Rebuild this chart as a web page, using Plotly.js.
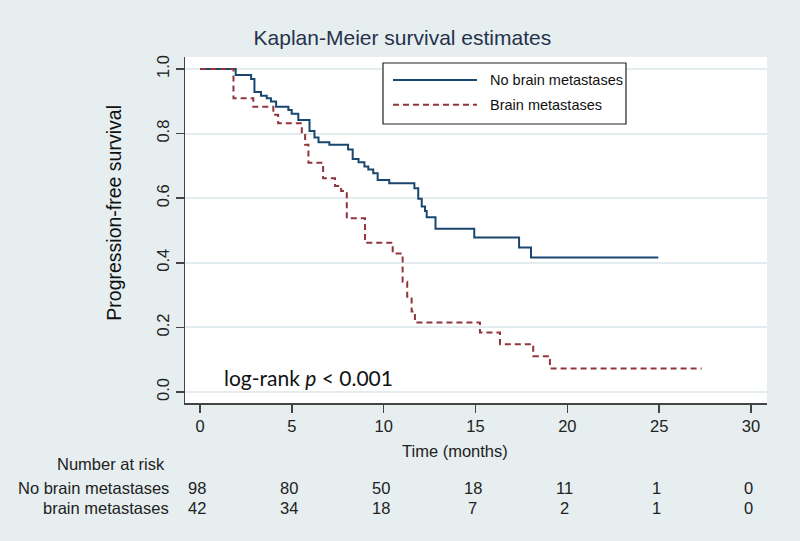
<!DOCTYPE html>
<html>
<head>
<meta charset="utf-8">
<script src="https://cdn.plot.ly/plotly-3.0.1.min.js"></script>
<style>
  html, body { margin: 0; padding: 0; background: #e6eef0; }
  #chart { width: 800px; height: 541px; }
</style>
</head>
<body>
<div id="chart"></div>
<script>
// Kaplan-Meier step data (time in months, survival probability)
const noBrainTime = [0, 1.94, 2.78, 2.96, 3.32, 3.63, 3.86, 4.14, 4.81, 4.99, 5.35, 5.96, 6.23, 6.45, 7.04, 8.06, 8.31, 8.63, 8.95, 9.16, 9.43, 9.67, 10.3, 11.67, 11.88, 12.07, 12.25, 12.34, 12.82, 14.93, 17.37, 18.02, 24.95];
const noBrainSurv = [1, 0.981, 0.969, 0.929, 0.917, 0.909, 0.899, 0.883, 0.873, 0.861, 0.842, 0.808, 0.788, 0.773, 0.765, 0.751, 0.721, 0.711, 0.698, 0.689, 0.677, 0.656, 0.646, 0.631, 0.598, 0.574, 0.56, 0.541, 0.505, 0.478, 0.447, 0.416, 0.416];

const brainTime = [0, 1.82, 2.9, 3.99, 4.25, 5.54, 5.72, 5.9, 6.7, 7.35, 7.68, 7.99, 8.98, 10.49, 11.03, 11.28, 11.52, 11.7, 15.24, 16.33, 18.14, 19.05, 27.31];
const brainSurv = [1, 0.909, 0.883, 0.858, 0.832, 0.801, 0.765, 0.71, 0.662, 0.638, 0.622, 0.538, 0.462, 0.429, 0.341, 0.295, 0.249, 0.215, 0.184, 0.148, 0.111, 0.073, 0.073];

// Number at risk table
const riskTimes = [0, 5, 10, 15, 20, 25, 30];
const riskNoBrain = [98, 80, 50, 18, 11, 1, 0];
const riskBrain = [42, 34, 18, 7, 2, 1, 0];

const xTicks = [0, 5, 10, 15, 20, 25, 30];
const yTicks = [0, 0.2, 0.4, 0.6, 0.8, 1.0];
const yTickText = ["0.0", "0.2", "0.4", "0.6", "0.8", "1.0"];

const seriesNames = ["No brain metastases", "Brain metastases"];
const rowLabels = ["No brain metastases", "brain metastases"];

const BLUE = "#1a476f";
const RED = "#90353b";
const FONT = "Liberation Sans, Arial, sans-serif";

const traces = [
  {
    x: noBrainTime, y: noBrainSurv, type: "scatter", mode: "lines",
    line: { shape: "hv", color: BLUE, width: 2 },
    name: seriesNames[0], showlegend: false, hoverinfo: "skip"
  },
  {
    x: brainTime, y: brainSurv, type: "scatter", mode: "lines",
    line: { shape: "hv", color: RED, width: 2, dash: "6px,4px" },
    name: seriesNames[1], showlegend: false, hoverinfo: "skip"
  }
];

const annotations = [];
// x axis title
annotations.push({
  text: "Time (months)", xref: "x", yref: "paper", x: 13.9, y: -0.139,
  xanchor: "center", yanchor: "middle", showarrow: false,
  font: { family: FONT, size: 16.5, color: "#222" }
});
// y axis title
annotations.push({
  text: "Progression-free survival", xref: "paper", yref: "paper",
  x: -0.122, y: 0.55, textangle: -90, xanchor: "center", yanchor: "middle",
  showarrow: false, font: { family: FONT, size: 19.5, color: "#111" }
});
// log-rank
annotations.push({
  text: "log-rank <i>p</i> < 0.001", xref: "x", yref: "y", x: 1.2, y: 0.046,
  xanchor: "left", yanchor: "middle", showarrow: false,
  font: { family: "Lato, Open Sans, sans-serif", size: 21, color: "#111" }
});
// Number at risk header
annotations.push({
  text: "Number at risk", xref: "paper", yref: "paper", x: -0.031, y: -0.176,
  xanchor: "right", yanchor: "middle", showarrow: false,
  font: { family: FONT, size: 16.5, color: "#222" }
});
const rowY = [-0.2457, -0.3035];
[riskNoBrain, riskBrain].forEach((row, r) => {
  annotations.push({
    text: rowLabels[r], xref: "paper", yref: "paper", x: -0.024, y: rowY[r],
    xanchor: "right", yanchor: "middle", showarrow: false,
    font: { family: FONT, size: 16.5, color: "#222" }
  });
  row.forEach((v, i) => {
    annotations.push({
      text: String(v), xref: "x", yref: "paper", x: riskTimes[i], y: rowY[r],
      xanchor: "center", yanchor: "middle", xshift: -3, showarrow: false,
      font: { family: FONT, size: 16.5, color: "#222" }
    });
  });
});
// legend text
annotations.push({
  text: seriesNames[0], xref: "paper", yref: "paper", x: 0.5206, y: 0.9335,
  xanchor: "left", yanchor: "middle", showarrow: false,
  font: { family: FONT, size: 14.5, color: "#111" }
});
annotations.push({
  text: seriesNames[1], xref: "paper", yref: "paper", x: 0.5206, y: 0.862,
  xanchor: "left", yanchor: "middle", showarrow: false,
  font: { family: FONT, size: 14.5, color: "#111" }
});

const shapes = [
  { type: "rect", xref: "paper", yref: "paper", x0: 0.3402, x1: 0.7577, y0: 0.8064, y1: 0.9827,
    fillcolor: "#ffffff", line: { color: "#222", width: 1.2 }, layer: "above" },
  { type: "line", xref: "paper", yref: "paper", x0: 0.3574, x1: 0.5017, y0: 0.9335, y1: 0.9335,
    line: { color: BLUE, width: 2 } },
  { type: "line", xref: "paper", yref: "paper", x0: 0.3574, x1: 0.5017, y0: 0.862, y1: 0.862,
    line: { color: RED, width: 2, dash: "6px,4px" } }
];

const layout = {
  width: 800, height: 541,
  paper_bgcolor: "#e6eef0",
  plot_bgcolor: "#ffffff",
  margin: { l: 185, r: 33, t: 57, b: 138, pad: 0 },
  showlegend: false,
  title: {
    text: "Kaplan-Meier survival estimates",
    xref: "container", x: 0.503, y: 0.93, yanchor: "middle",
    font: { family: FONT, size: 21, color: "#26324a" }
  },
  xaxis: {
    range: [-0.82, 30.87], tickvals: xTicks, ticktext: xTicks.map(String),
    showgrid: false, zeroline: false, showline: true, linecolor: "#444", linewidth: 1.5,
    ticks: "outside", ticklen: 8, tickwidth: 1.5, tickcolor: "#444",
    tickfont: { family: FONT, size: 16.5, color: "#222" }
  },
  yaxis: {
    range: [-0.034, 1.037], tickvals: yTicks, ticktext: yTickText, tickangle: -90,
    showgrid: true, gridcolor: "#e3ecee", gridwidth: 2,
    zeroline: false, showline: true, linecolor: "#444", linewidth: 1.5,
    ticks: "outside", ticklen: 8, tickwidth: 1.5, tickcolor: "#444",
    tickfont: { family: FONT, size: 16.5, color: "#222" }
  },
  annotations: annotations,
  shapes: shapes
};

Plotly.newPlot("chart", traces, layout, { staticPlot: true, displayModeBar: false });
</script>
</body>
</html>
